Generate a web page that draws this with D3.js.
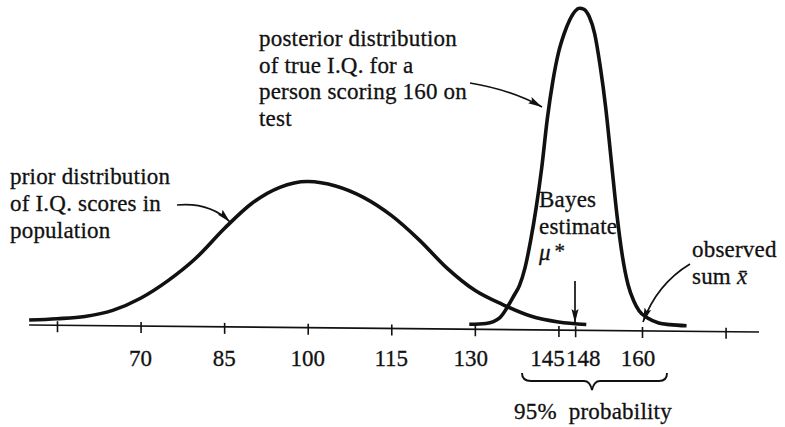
<!DOCTYPE html>
<html>
<head>
<meta charset="utf-8">
<script src="https://cdn.jsdelivr.net/npm/d3@7"></script>
<style>
  html, body { margin: 0; padding: 0; background: #fff; }
  svg { display: block; }
  text { font-family: "Liberation Serif", "Times New Roman", serif; fill: #111; stroke: #111; stroke-width: 0.3; }
</style>
</head>
<body>
<svg id="chart" width="785" height="427"></svg>
<script>
// ---------------- data ----------------
// I.Q. values (x) and relative density (posterior peak = 100)
const priorIQ      = [50, 55, 60, 65, 70, 75, 80, 85, 90, 95, 100, 105, 110, 115, 120, 125, 130, 135, 140, 145, 150];
const priorDensity = [0.3, 0.8, 1.6, 3.6, 7.5, 13.2, 20.4, 29.6, 37.7, 42.8, 44.7, 43.4, 39.9, 34.3, 26.7, 17.9, 11.0, 6.6, 3.1, 1.3, 0.6];

const postIQ      = [129, 132, 134.5, 136, 137, 138, 139, 140, 141, 142, 143, 144, 145, 146, 147, 148, 148.8, 149.6, 150.5, 151.5, 152.5, 153.5, 154.5, 155.5, 156.5, 157.5, 158.5, 159.5, 161, 163, 165, 168];
const postDensity = [0.3, 0.6, 2.5, 6.3, 9.4, 12.6, 18.2, 26.7, 37.1, 49.7, 65.1, 77.0, 85.9, 91.8, 96.2, 99.1, 100, 99.7, 97.5, 92.1, 81.8, 68.6, 51.9, 35.2, 22.0, 13.2, 8.2, 5.0, 2.8, 1.3, 0.8, 0.5];

const tickValues  = [55, 70, 85, 100, 115, 130, 145, 148, 160, 175];
const tickLabels  = ["70", "85", "100", "115", "130", "145", "148", "160"];
const axisExtent  = [50, 181];

const priorText     = ["prior distribution", "of I.Q. scores in", "population"];
const posteriorText = ["posterior distribution", "of true I.Q. for a", "person scoring 160 on", "test"];
const bayesText     = ["Bayes", "estimate"];
const observedText  = ["observed"];
const braceText     = "95%\u00A0\u00A0probability";

// ---------------- layout ----------------
const svg = d3.select("#chart");
const x = d3.scaleLinear().domain([55, 160]).range([57, 642]);
const y = d3.scaleLinear().domain([0, 100]).range([321, 3]);
const axisY = 325;
const k = 0.0096; // slight slant of the scanned baseline
const FS = 23;

const defs = svg.append("defs");
defs.append("marker")
  .attr("id", "ah").attr("viewBox", "0 0 14 8")
  .attr("refX", 14).attr("refY", 4)
  .attr("markerWidth", 14).attr("markerHeight", 8)
  .attr("markerUnits", "userSpaceOnUse")
  .attr("orient", "auto")
  .append("path").attr("d", "M0,0.5 L14,4 L0,7.5 L2.5,4 Z").attr("fill", "#111");

const plot = svg.append("g")
  .attr("transform", `matrix(1, ${k}, 0, 1, 0, ${-k * 29})`);

// axis line
plot.append("line")
  .attr("x1", x(axisExtent[0])).attr("x2", x(axisExtent[1]))
  .attr("y1", axisY).attr("y2", axisY)
  .attr("stroke", "#111").attr("stroke-width", 1.7);

// ticks via d3 axis
const axisG = plot.append("g")
  .attr("transform", `translate(0, ${axisY - 4})`)
  .call(d3.axisBottom(x).tickValues(tickValues).tickSize(11).tickFormat(""));
axisG.select(".domain").remove();
axisG.selectAll(".tick line").attr("stroke", "#111").attr("stroke-width", 1.6);

const line = d3.line()
  .x(d => x(d[0])).y(d => y(d[1]))
  .curve(d3.curveMonotoneX);

plot.append("path")
  .datum(d3.zip(priorIQ, priorDensity))
  .attr("d", line)
  .attr("fill", "none").attr("stroke", "#111").attr("stroke-width", 3.6)
  .attr("stroke-linecap", "butt");

plot.append("path")
  .datum(d3.zip(postIQ, postDensity))
  .attr("d", line)
  .attr("fill", "none").attr("stroke", "#111").attr("stroke-width", 3.6)
  .attr("stroke-linecap", "butt");

// tick labels (not slanted)
const labelOffset = { "145": -11, "148": 8, "130": -4, "160": -4 };
svg.append("g").selectAll("text")
  .data(tickLabels)
  .join("text")
  .attr("x", d => x(+d) + (labelOffset[d] || 0))
  .attr("y", 366)
  .attr("text-anchor", "middle")
  .attr("font-size", FS)
  .text(d => d);

// text blocks
function block(lines, x0, y0, dy) {
  const t = svg.append("text").attr("font-size", FS).attr("letter-spacing", 0.2);
  lines.forEach((s, i) => {
    t.append("tspan").attr("x", x0).attr("y", y0 + i * dy).text(s);
  });
  return t;
}
block(priorText, 10, 184, 27);
block(posteriorText, 259, 46, 26.7);
block(bayesText, 539, 207, 27);
block(observedText, 692, 257, 27);

// mu *
const mu = svg.append("text").attr("x", 539).attr("y", 260).attr("font-size", FS);
mu.append("tspan").attr("font-style", "italic").text("\u03BC");
mu.append("tspan").attr("dx", 4).attr("dy", -2).attr("font-size", 21).text("*");

// sum x-bar
const sm = svg.append("text").attr("x", 692).attr("y", 284).attr("font-size", FS).attr("letter-spacing", 0.2);
sm.append("tspan").text("sum\u00A0");
sm.append("tspan").attr("font-style", "italic").text("x\u0304");

// arrows
const arrows = [
  "M177,205 Q210,202 230,222",
  "M470,83 Q512,90 542,107",
  "M575,281 L575,323",
  "M690,264 Q657,284 643,322"
];
svg.append("g").selectAll("path")
  .data(arrows)
  .join("path")
  .attr("d", d => d)
  .attr("fill", "none").attr("stroke", "#111").attr("stroke-width", 1.7)
  .attr("marker-end", "url(#ah)");

// brace
svg.append("path")
  .attr("d", "M522,373 Q522,381 531,381 L584,381 Q590,381 592,390 Q594,381 600,381 L659,381 Q667,381 667,373")
  .attr("fill", "none").attr("stroke", "#111").attr("stroke-width", 1.9);

svg.append("text")
  .attr("x", 593).attr("y", 419)
  .attr("text-anchor", "middle")
  .attr("font-size", FS).attr("letter-spacing", 0.2)
  .text(braceText);
</script>
</body>
</html>
